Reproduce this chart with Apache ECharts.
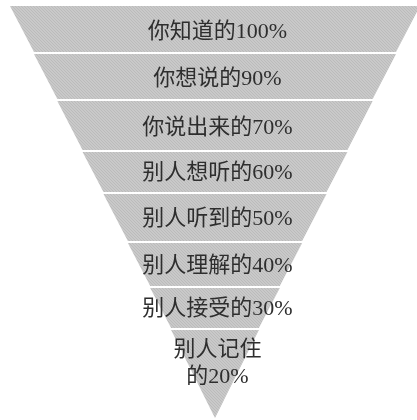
<!DOCTYPE html>
<html>
<head>
<meta charset="utf-8">
<script src="https://cdn.jsdelivr.net/npm/echarts@6/dist/echarts.min.js"></script>
<style>
html,body{margin:0;padding:0;background:#fff;}
#chart{width:417px;height:420px;}
</style>
</head>
<body>
<div id="chart"></div>
<script>
// Band labels (top to bottom)
var labels = ['你知道的100%', '你想说的90%', '你说出来的70%', '别人想听的60%', '别人听到的50%', '别人理解的40%', '别人接受的30%', '别人记住\n的20%'];
// Relative width of each band at its top edge (% of the widest)
var widths = [100, 88.3, 76.9, 64.6, 54.4, 42.5, 31.6, 21.4];
// Relative height of each band (% of the whole funnel)
var heights = [11.17, 10.92, 11.89, 9.71, 11.41, 10.44, 9.71, 21.36];

// subtle diagonal cloth-like texture
function makeTexture() {
  var c = document.createElement('canvas');
  c.width = 6; c.height = 6;
  var g = c.getContext('2d');
  g.fillStyle = '#c9c9c9';
  g.fillRect(0, 0, 6, 6);
  g.strokeStyle = 'rgba(150,150,150,0.28)';
  g.lineWidth = 1;
  for (var k = -6; k <= 12; k += 3) {
    g.beginPath();
    g.moveTo(k, 0);
    g.lineTo(k + 6, 6);
    g.stroke();
  }
  return c;
}

var chart = echarts.init(document.getElementById('chart'), null, {renderer: 'canvas'});

var last = labels.length - 1;
var data = labels.map(function (name, i) {
  return {
    name: name,
    value: widths[i],
    itemStyle: {height: heights[i] + '%'}
  };
});

chart.setOption({
  animation: false,
  backgroundColor: '#ffffff',
  series: [{
    type: 'funnel',
    sort: 'none',
    left: 10,
    top: 6,
    width: 410,
    height: 412,
    min: 0,
    max: 100,
    minSize: '0%',
    maxSize: '100%',
    gap: 2,
    silent: true,
    itemStyle: {
      color: {image: makeTexture(), repeat: 'repeat'},
      borderWidth: 0
    },
    label: {
      show: true,
      position: 'inside',
      color: '#2e2e2e',
      fontSize: 22,
      lineHeight: 27,
      fontFamily: "'Liberation Serif', 'Noto Sans CJK SC', serif",
      formatter: function (p) {
        var i = p.dataIndex;
        var lines = p.name.split('\n').map(function (t) { return '{t|' + t + '}'; }).join('\n');
        if (i === last) return lines + '\n{s| }';
        if (i < 3) return '{a| }\n' + lines;
        return '{b| }\n' + lines;
      },
      rich: {
        t: {fontSize: 22, lineHeight: 27, color: '#2e2e2e', fontFamily: "'Liberation Serif', 'Noto Sans CJK SC', serif", padding: [0, 0, 0, 5]},
        s: {fontSize: 4, lineHeight: 20},
        a: {fontSize: 4, lineHeight: 6},
        b: {fontSize: 4, lineHeight: 3}
      }
    },
    labelLine: {show: false},
    data: data
  }]
});
</script>
</body>
</html>
